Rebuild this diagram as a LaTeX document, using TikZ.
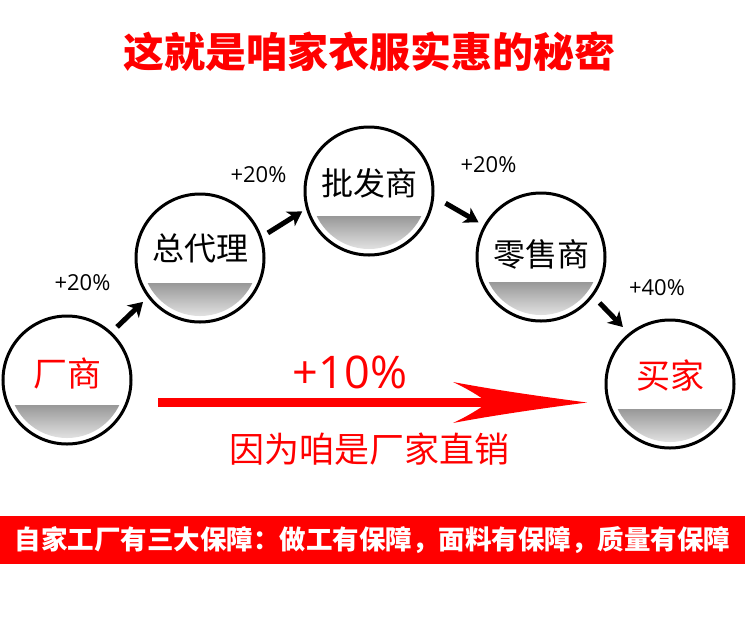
\documentclass[tikz,border=0pt]{standalone}
\usepackage{fontspec}
\setmainfont{Noto Sans CJK SC}
\newfontfamily\latinfont{Open Sans}
\usetikzlibrary{arrows.meta,calc}
\definecolor{pred}{RGB}{255,0,0}
\definecolor{segtop}{RGB}{152,152,152}
\definecolor{segbot}{RGB}{230,230,230}
\tikzset{
  circ/.style={circle, draw=black, line width=3pt, minimum size=128pt, inner sep=0pt, fill=white,
    path picture={
      \begin{scope}
        \clip (path picture bounding box.center) circle (58pt);
        \shade[top color=segtop, bottom color=segbot]
          ([xshift=-60pt,yshift=-25pt]path picture bounding box.center) rectangle
          ([xshift=60pt,yshift=-60pt]path picture bounding box.center);
      \end{scope}}},
  ctext/.style={font=\fontsize{32pt}{32pt}\selectfont, text=black, inner sep=0pt},
  rtext/.style={font=\fontsize{34pt}{34pt}\selectfont, text=pred, inner sep=0pt},
  pct/.style={font=\latinfont\fontsize{22pt}{22pt}\selectfont, text=black, inner sep=0pt},
  arr/.style={line width=5pt, draw=black, -{Stealth[length=14pt,width=17pt,inset=4pt]}},
}
\begin{document}
\begin{tikzpicture}[x=1pt,y=-1pt]
\useasboundingbox[fill=white] (0,0) rectangle (745,622);

% title
\node[font=\fontsize{41pt}{41pt}\selectfont\bfseries, text=pred, inner sep=0pt] (title) at (369.5,52) {这就是咱家衣服实惠的秘密};

% circles
\node[circ] (c1) at (67,380) {};
\node[circ] (c2) at (200,258) {};
\node[circ] (c3) at (369,191) {};
\node[circ] (c4) at (541,257) {};
\node[circ] (c5) at (670,384) {};

\node[rtext] (t1) at ([yshift=7pt]c1.center) {厂商};
\node[ctext] (t2) at ([yshift=10pt]c2.center) {总代理};
\node[ctext] (t3) at ([yshift=8pt]c3.center) {批发商};
\node[ctext] (t4) at ([yshift=3pt]c4.center) {零售商};
\node[rtext] (t5) at ([yshift=9pt]c5.center) {买家};

% arrows
\draw[arr, shorten <=7.5pt, shorten >=6.5pt] (c1.47) -- (c2.217);
\draw[arr, shorten <=7pt, shorten >=4.5pt] (c2.19) -- (c3.196);
\draw[arr, shorten <=13pt, shorten >=6pt] (c3.-5) -- (c4.151);
\draw[arr, shorten <=9pt, shorten >=8.5pt] (c4.-37) -- (c5.129);

% percentages
\node[pct] (p1) at (82.5,282.5) {+20\%};
\node[pct] (p2) at (258.5,174.5) {+20\%};
\node[pct] (p3) at (488.5,164.5) {+20\%};
\node[pct] (p4) at (657,287.5) {+40\%};

% big red arrow
\fill[pred] (158,398.2) rectangle (490,406.8);
\fill[pred] (587,402.5) .. controls (545,397) and (495,390) .. (453,382)
  .. controls (468,389) and (479,396) .. (488,402.5)
  .. controls (479,409) and (468,416) .. (453,423)
  .. controls (495,415) and (545,408) .. (587,402.5) -- cycle;
\node[font=\latinfont\fontsize{45pt}{45pt}\selectfont, text=pred, inner sep=0pt] (ten) at (350,372) {+10\%};
\node[font=\fontsize{35pt}{35pt}\selectfont, text=pred, inner sep=0pt] (direct) at (369,449) {因为咱是厂家直销};

% banner
\node[fill=pred, minimum width=745pt, minimum height=48pt, inner sep=0pt,
  font=\fontsize{26.5pt}{26.5pt}\selectfont\bfseries, text=white] (banner) at (372.5,540)
  {自家工厂有三大保障：做工有保障，面料有保障，质量有保障};
\end{tikzpicture}
\end{document}
